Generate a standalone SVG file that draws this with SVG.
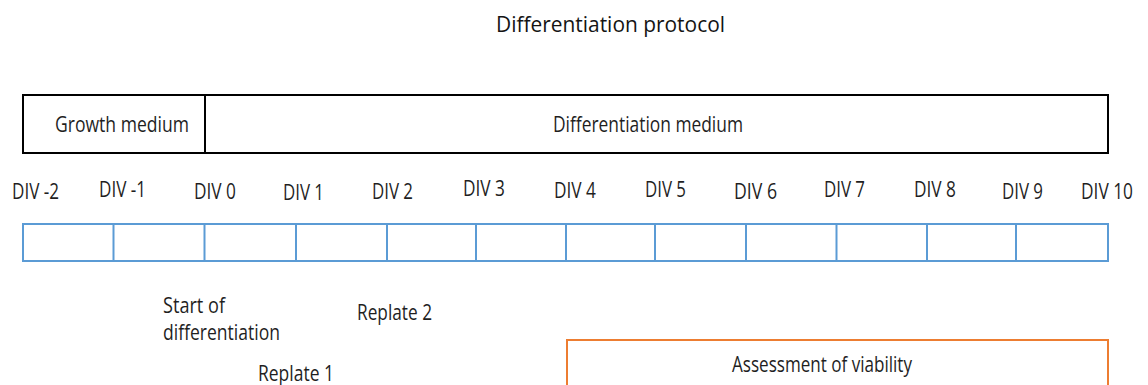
<svg xmlns="http://www.w3.org/2000/svg" width="1148" height="385" viewBox="0 0 1148 385">
<style>
text{font-family:"Open Sans","Liberation Sans",Arial,sans-serif;font-size:21.5px;fill:#1f1f1f}
.title{font-size:22px;fill:#141414}
.blk{fill:#fff;stroke:#000;stroke-width:2}
.blu{fill:#fff;stroke:#5B9BD5;stroke-width:2}
.org{fill:#fff;stroke:#ED7D31;stroke-width:2}
</style>
<rect width="1148" height="385" fill="#fff"/>
<text class="title" x="496" y="32" textLength="229" lengthAdjust="spacingAndGlyphs">Differentiation protocol</text>

<g id="growth-medium">
<rect class="blk" x="23" y="95" width="182" height="58"/>
<text x="55" y="132" textLength="134" lengthAdjust="spacingAndGlyphs">Growth medium</text>
</g>
<g id="differentiation-medium">
<rect class="blk" x="205" y="95" width="903" height="58"/>
<text x="553" y="132" textLength="190" lengthAdjust="spacingAndGlyphs">Differentiation medium</text>
</g>

<g id="timeline">
<rect class="blu" x="23" y="224" width="1085" height="37"/>
<g stroke="#5B9BD5" stroke-width="2">
<line x1="113.5" y1="224" x2="113.5" y2="261"/>
<line x1="204.5" y1="224" x2="204.5" y2="261"/>
<line x1="296" y1="224" x2="296" y2="261"/>
<line x1="387" y1="224" x2="387" y2="261"/>
<line x1="476" y1="224" x2="476" y2="261"/>
<line x1="566" y1="224" x2="566" y2="261"/>
<line x1="655" y1="224" x2="655" y2="261"/>
<line x1="746" y1="224" x2="746" y2="261"/>
<line x1="836.5" y1="224" x2="836.5" y2="261"/>
<line x1="927" y1="224" x2="927" y2="261"/>
<line x1="1016" y1="224" x2="1016" y2="261"/>
</g>
</g>

<g id="day-labels">
<text x="12" y="199" textLength="47" lengthAdjust="spacingAndGlyphs">DIV -2</text>
<text x="99" y="197" textLength="47" lengthAdjust="spacingAndGlyphs">DIV -1</text>
<text x="194" y="199" textLength="42" lengthAdjust="spacingAndGlyphs">DIV 0</text>
<text x="283" y="200" textLength="41" lengthAdjust="spacingAndGlyphs">DIV 1</text>
<text x="372" y="199" textLength="41" lengthAdjust="spacingAndGlyphs">DIV 2</text>
<text x="463" y="196" textLength="42" lengthAdjust="spacingAndGlyphs">DIV 3</text>
<text x="554" y="198" textLength="42" lengthAdjust="spacingAndGlyphs">DIV 4</text>
<text x="645" y="197" textLength="41" lengthAdjust="spacingAndGlyphs">DIV 5</text>
<text x="734" y="199" textLength="43" lengthAdjust="spacingAndGlyphs">DIV 6</text>
<text x="824" y="197" textLength="41" lengthAdjust="spacingAndGlyphs">DIV 7</text>
<text x="914" y="197" textLength="42" lengthAdjust="spacingAndGlyphs">DIV 8</text>
<text x="1002" y="199" textLength="41" lengthAdjust="spacingAndGlyphs">DIV 9</text>
<text x="1081" y="199" textLength="52" lengthAdjust="spacingAndGlyphs">DIV 10</text>
</g>

<g id="start-of-differentiation">
<text x="163" y="313" textLength="62" lengthAdjust="spacingAndGlyphs">Start of</text>
<text x="163" y="340" textLength="117" lengthAdjust="spacingAndGlyphs">differentiation</text>
</g>
<g id="replate-2">
<text x="357" y="320" textLength="75" lengthAdjust="spacingAndGlyphs">Replate 2</text>
</g>
<g id="replate-1">
<text x="258" y="381" textLength="76" lengthAdjust="spacingAndGlyphs">Replate 1</text>
</g>

<g id="assessment-of-viability">
<rect class="org" x="567" y="340" width="541" height="60"/>
<text x="732" y="372" textLength="180" lengthAdjust="spacingAndGlyphs">Assessment of viability</text>
</g>
</svg>
